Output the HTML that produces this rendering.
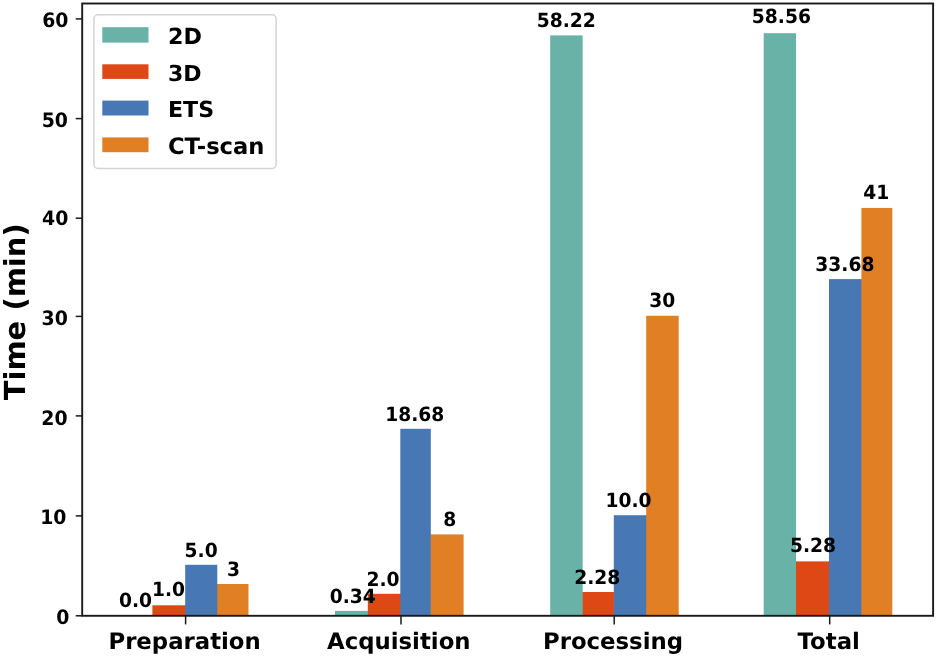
<!DOCTYPE html>
<html lang="en"><head><meta charset="utf-8"><title>Time (min) by stage</title>
<style>html,body{margin:0;padding:0;background:#fff;}body{width:937px;height:658px;overflow:hidden;}svg.chart{display:block;will-change:transform;filter:blur(0.35px);-webkit-font-smoothing:antialiased;text-rendering:geometricPrecision;font-family:'DejaVu Sans','Liberation Sans',sans-serif;font-weight:bold;}</style>
</head><body>
<svg width="937" height="658" viewBox="0 0 937 658" class="chart">
<rect x="0" y="0" width="937" height="658" fill="#ffffff"/>
<g>
<rect x="184.70" y="605.30" width="1.3" height="10.50" fill="#dd4814"/>
<rect x="152.40" y="605.30" width="32.80" height="10.50" fill="#dd4814"/>
<rect x="216.80" y="584.00" width="1.3" height="31.80" fill="#4878b3"/>
<rect x="185.20" y="564.80" width="32.10" height="51.00" fill="#4878b3"/>
<rect x="217.30" y="584.00" width="31.20" height="31.80" fill="#e17f25"/>
<rect x="367.30" y="610.90" width="1.3" height="4.90" fill="#69b2a8"/>
<rect x="335.00" y="610.90" width="32.80" height="4.90" fill="#69b2a8"/>
<rect x="399.80" y="593.80" width="1.3" height="22.00" fill="#dd4814"/>
<rect x="367.80" y="593.80" width="32.50" height="22.00" fill="#dd4814"/>
<rect x="430.30" y="534.40" width="1.3" height="81.40" fill="#4878b3"/>
<rect x="400.30" y="428.80" width="30.50" height="187.00" fill="#4878b3"/>
<rect x="430.80" y="534.40" width="32.80" height="81.40" fill="#e17f25"/>
<rect x="582.15" y="592.00" width="1.3" height="23.80" fill="#69b2a8"/>
<rect x="550.20" y="35.40" width="32.45" height="580.40" fill="#69b2a8"/>
<rect x="613.30" y="592.00" width="1.3" height="23.80" fill="#dd4814"/>
<rect x="582.65" y="592.00" width="31.15" height="23.80" fill="#dd4814"/>
<rect x="645.70" y="515.20" width="1.3" height="100.60" fill="#4878b3"/>
<rect x="613.80" y="515.20" width="32.40" height="100.60" fill="#4878b3"/>
<rect x="646.20" y="315.75" width="32.50" height="300.05" fill="#e17f25"/>
<rect x="795.50" y="561.40" width="1.3" height="54.40" fill="#69b2a8"/>
<rect x="763.70" y="33.20" width="32.30" height="582.60" fill="#69b2a8"/>
<rect x="828.50" y="561.40" width="1.3" height="54.40" fill="#dd4814"/>
<rect x="796.00" y="561.40" width="33.00" height="54.40" fill="#dd4814"/>
<rect x="860.90" y="279.10" width="1.3" height="336.70" fill="#4878b3"/>
<rect x="829.00" y="279.10" width="32.40" height="336.70" fill="#4878b3"/>
<rect x="861.40" y="207.95" width="30.90" height="407.85" fill="#e17f25"/>
</g>
<rect x="82.2" y="3.5" width="850.90" height="612.30" fill="none" stroke="#1a1a1a" stroke-width="1.9"/>
<g stroke="#1a1a1a" stroke-width="1.5">
<line x1="75.70" y1="615.80" x2="82.20" y2="615.80"/>
<line x1="75.70" y1="515.90" x2="82.20" y2="515.90"/>
<line x1="75.70" y1="415.90" x2="82.20" y2="415.90"/>
<line x1="75.70" y1="316.40" x2="82.20" y2="316.40"/>
<line x1="75.70" y1="218.20" x2="82.20" y2="218.20"/>
<line x1="75.70" y1="118.60" x2="82.20" y2="118.60"/>
<line x1="75.70" y1="18.90" x2="82.20" y2="18.90"/>
<line x1="185.60" y1="615.80" x2="185.60" y2="624.40"/>
<line x1="401.00" y1="615.80" x2="401.00" y2="624.40"/>
<line x1="614.20" y1="615.80" x2="614.20" y2="624.40"/>
<line x1="829.70" y1="615.80" x2="829.70" y2="624.40"/>
</g>
<g font-size="18.9" fill="#000000" text-anchor="end">
<text transform="translate(69.45 624.35) scale(1 1.05)">0</text>
<text transform="translate(66.50 524.45) scale(1 1.05)">10</text>
<text transform="translate(67.55 424.65) scale(1 1.05)">20</text>
<text transform="translate(67.85 324.65) scale(1 1.05)">30</text>
<text transform="translate(68.30 224.75) scale(1 1.05)">40</text>
<text transform="translate(67.95 126.75) scale(1 1.05)">50</text>
<text transform="translate(68.50 26.90) scale(1 1.05)">60</text>
</g>
<g font-size="22.8" fill="#000000" text-anchor="middle">
<text x="184.60" y="649.1">Preparation</text>
<text x="398.80" y="649.1">Acquisition</text>
<text x="613.00" y="649.1">Processing</text>
<text x="828.70" y="649.3">Total</text>
</g>
<text font-size="29.0" fill="#000000" text-anchor="middle" transform="translate(25.2,311.8) rotate(-90)">Time (min)</text>
<g font-size="18.7" fill="#000000" text-anchor="middle">
<text transform="translate(135.50 606.90) scale(1 1.05)">0.0</text>
<text transform="translate(168.50 596.15) scale(1 1.05)">1.0</text>
<text transform="translate(201.10 557.17) scale(1 1.05)">5.0</text>
<text transform="translate(233.60 575.76) scale(1 1.05)">3</text>
<text transform="translate(352.70 602.72) scale(1 1.05)">0.34</text>
<text transform="translate(383.00 585.81) scale(1 1.05)">2.0</text>
<text transform="translate(414.70 421.13) scale(1 1.05)">18.68</text>
<text transform="translate(449.70 526.04) scale(1 1.05)">8</text>
<text transform="translate(566.30 27.20) scale(1 1.05)">58.22</text>
<text transform="translate(597.30 584.13) scale(1 1.05)">2.28</text>
<text transform="translate(628.50 506.85) scale(1 1.05)">10.0</text>
<text transform="translate(662.30 307.25) scale(1 1.05)">30</text>
<text transform="translate(781.40 22.92) scale(1 1.05)">58.56</text>
<text transform="translate(813.00 551.89) scale(1 1.05)">5.28</text>
<text transform="translate(844.90 271.45) scale(1 1.05)">33.68</text>
<text transform="translate(876.20 198.65) scale(1 1.05)">41</text>
</g>
<rect x="93.9" y="14.8" width="182.2" height="153.7" rx="4" ry="4" fill="#ffffff" fill-opacity="0.8" stroke="#d4d4d4" stroke-width="1.5"/>
<rect x="102.3" y="27.20" width="46.2" height="15.45" fill="#69b2a8"/>
<text x="168.0" y="43.90" font-size="22.2" fill="#000000">2D</text>
<rect x="102.3" y="64.30" width="46.2" height="14.60" fill="#dd4814"/>
<text x="168.0" y="81.40" font-size="22.0" fill="#000000">3D</text>
<rect x="102.3" y="100.60" width="46.2" height="14.90" fill="#4878b3"/>
<text x="168.0" y="116.85" font-size="22.1" fill="#000000">ETS</text>
<rect x="102.3" y="137.40" width="46.2" height="14.80" fill="#e17f25"/>
<text x="168.0" y="153.50" font-size="22.65" fill="#000000">CT-scan</text>
</svg>
</body></html>
